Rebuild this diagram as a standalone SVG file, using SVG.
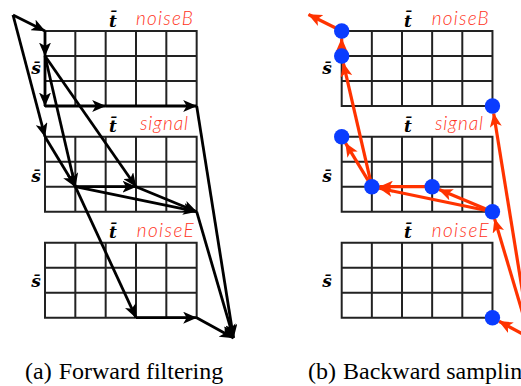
<svg xmlns="http://www.w3.org/2000/svg" width="521" height="386" viewBox="0 0 521 386">
<style>
.grid{stroke:#222;stroke-width:2;fill:none}
.blk{stroke:#000;stroke-width:2.8;fill:none;marker-end:url(#ab)}
.red{stroke:#ff3300;stroke-width:3.2;fill:none;marker-end:url(#ar)}
.dot{fill:#0a3cff}
.lbl{font-family:Lato,"Open Sans",sans-serif;font-style:italic;font-weight:300;font-size:19px;fill:#ff3322}
.var{font-family:"DejaVu Serif","Liberation Serif",serif;font-style:italic;font-weight:bold;font-size:17px;fill:#000;text-anchor:middle}
.cap{font-family:"Liberation Serif",serif;font-size:24px;fill:#000}
</style>
<defs>
<marker id="ab" markerUnits="userSpaceOnUse" markerWidth="14" markerHeight="12" viewBox="0 0 14 12" refX="13.5" refY="6" orient="auto"><path d="M0,0 L14,6 L0,12 L3.5,6 Z" fill="#000"/></marker>
<marker id="ar" markerUnits="userSpaceOnUse" markerWidth="14" markerHeight="12" viewBox="0 0 14 12" refX="13.5" refY="6" orient="auto"><path d="M0,0 L14,6 L0,12 L3.5,6 Z" fill="#ff3300"/></marker>
<path id="g5x3" d="M0,0 H151.67 V75 H0 Z M0,25 H151.67 M0,50 H151.67 M30.33,0 V75 M60.67,0 V75 M91,0 V75 M121.33,0 V75"/>
</defs>

<g id="panelA-noiseB">
<use href="#g5x3" class="grid" x="45" y="31"/>
<text class="var" x="113" y="26.5">t̄</text>
<text class="var" x="36" y="74">s̄</text>
<text class="lbl" x="136" y="25" textLength="57">noiseB</text>
</g>
<g id="panelA-signal">
<use href="#g5x3" class="grid" x="45" y="136.7"/>
<text class="var" x="113" y="132">t̄</text>
<text class="var" x="36" y="182">s̄</text>
<text class="lbl" x="140" y="130" textLength="48">signal</text>
</g>
<g id="panelA-noiseE">
<use href="#g5x3" class="grid" x="45" y="242.7"/>
<text class="var" x="113" y="238">t̄</text>
<text class="var" x="36" y="287">s̄</text>
<text class="lbl" x="136.7" y="236.5" textLength="57">noiseE</text>
</g>

<g id="panelB-noiseB">
<use href="#g5x3" class="grid" x="341.7" y="31" transform="translate(341.7 0) scale(0.994 1) translate(-341.7 0)"/>
<text class="var" x="408" y="26.5">t̄</text>
<text class="var" x="327" y="74">s̄</text>
<text class="lbl" x="431.7" y="25" textLength="57">noiseB</text>
</g>
<g id="panelB-signal">
<use href="#g5x3" class="grid" x="341.7" y="136.7" transform="translate(341.7 0) scale(0.994 1) translate(-341.7 0)"/>
<text class="var" x="408" y="132">t̄</text>
<text class="var" x="327" y="182">s̄</text>
<text class="lbl" x="435" y="130" textLength="48">signal</text>
</g>
<g id="panelB-noiseE">
<use href="#g5x3" class="grid" x="341.7" y="242.7" transform="translate(341.7 0) scale(0.994 1) translate(-341.7 0)"/>
<text class="var" x="408" y="238">t̄</text>
<text class="var" x="327" y="287">s̄</text>
<text class="lbl" x="431.7" y="236.5" textLength="57">noiseE</text>
</g>

<g id="connectors">
<line class="blk" x1="13" y1="15" x2="45" y2="31"/>
<line class="blk" x1="13" y1="15" x2="45" y2="136.7"/>
<line class="blk" x1="45" y1="31" x2="45" y2="56"/>
<line class="blk" x1="45" y1="56" x2="45" y2="106"/>
<line class="blk" x1="45" y1="106" x2="105.67" y2="106"/>
<line class="blk" x1="105.67" y1="106" x2="196.67" y2="106"/>
<line class="blk" x1="45" y1="56" x2="75.33" y2="186.7"/>
<line class="blk" x1="45" y1="56" x2="136" y2="186.7"/>
<line class="blk" x1="45" y1="136.7" x2="75.33" y2="186.7"/>
<line class="blk" x1="75.33" y1="186.7" x2="136" y2="186.7"/>
<line class="blk" x1="75.33" y1="186.7" x2="196.67" y2="211.7"/>
<line class="blk" x1="136" y1="186.7" x2="196.67" y2="211.7"/>
<line class="blk" x1="75.33" y1="186.7" x2="136" y2="317.7"/>
<line class="blk" x1="136" y1="317.7" x2="196.67" y2="317.7"/>
<line class="blk" x1="196.67" y1="106" x2="233.5" y2="338"/>
<line class="blk" x1="196.67" y1="211.7" x2="233.5" y2="338"/>
<line class="blk" x1="196.67" y1="317.7" x2="233.5" y2="338"/>

<line class="red" x1="341.7" y1="31" x2="308.5" y2="14.5"/>
<line class="red" x1="341.7" y1="56" x2="341.7" y2="38.5"/>
<line class="red" x1="371.85" y1="186.7" x2="343.39" y2="63.31"/>
<line class="red" x1="371.85" y1="186.7" x2="345.57" y2="143.12"/>
<line class="red" x1="432.15" y1="186.7" x2="379.35" y2="186.7"/>
<line class="red" x1="492.45" y1="211.7" x2="439.08" y2="189.57"/>
<line class="red" x1="492.45" y1="211.7" x2="379.19" y2="188.22"/>
<line class="red" x1="530" y1="338" x2="494.59" y2="218.89"/>
<line class="red" x1="530" y1="338" x2="493.65" y2="113.4"/>
<line class="red" x1="530" y1="338" x2="499.05" y2="321.27"/>
</g>

<g id="samples">
<circle class="dot" cx="341.7" cy="31" r="7.7"/>
<circle class="dot" cx="341.7" cy="56" r="7.7"/>
<circle class="dot" cx="492.45" cy="106" r="7.7"/>
<circle class="dot" cx="341.7" cy="136.7" r="7.7"/>
<circle class="dot" cx="371.85" cy="186.7" r="7.7"/>
<circle class="dot" cx="432.15" cy="186.7" r="7.7"/>
<circle class="dot" cx="492.45" cy="211.7" r="7.7"/>
<circle class="dot" cx="492.45" cy="317.7" r="7.7"/>
</g>

<g id="captions">
<text class="cap" x="25" y="379">(a)<tspan dx="7">Forward filtering</tspan></text>
<text class="cap" x="308" y="379">(b)<tspan dx="7">Backward sampling</tspan></text>
</g>
</svg>
